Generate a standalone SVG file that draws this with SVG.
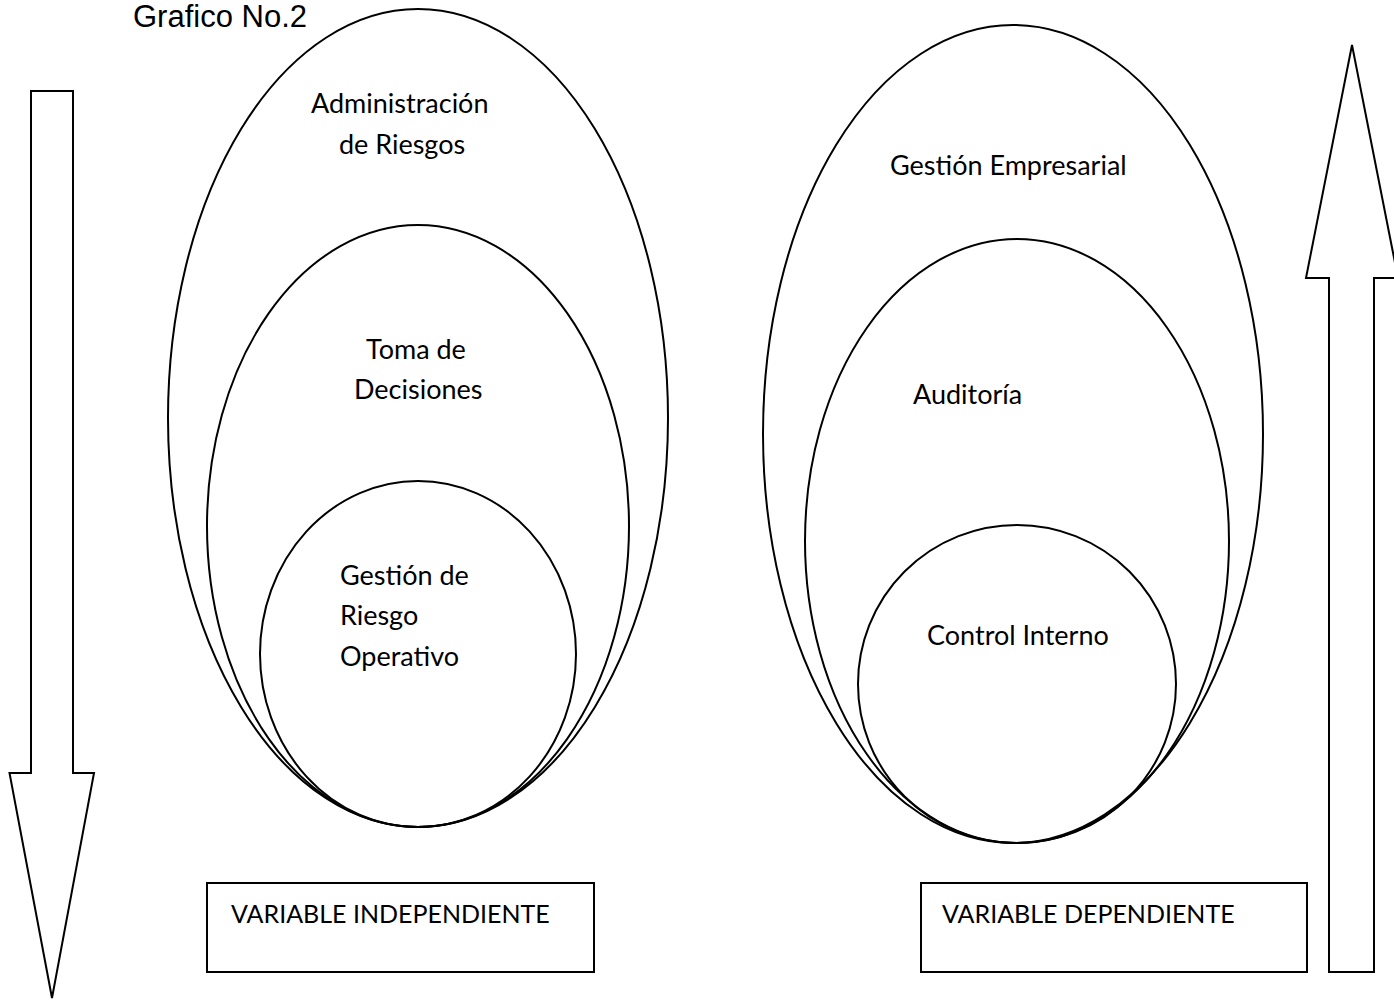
<svg xmlns="http://www.w3.org/2000/svg" width="1394" height="1003" viewBox="0 0 1394 1003">
<style>
.s{fill:none;stroke:#000;stroke-width:2}
.b{fill:#fff;stroke:#000;stroke-width:2}
.t{font-family:Lato,"Open Sans",sans-serif;font-size:27px;fill:#000}
.c{font-family:Lato,"Open Sans",sans-serif;font-size:25px;fill:#000}
.h{font-family:"Liberation Sans",Arial,sans-serif;font-size:31px;fill:#000}
</style>
<rect width="1394" height="1003" fill="#fff"/>
<text class="h" x="133" y="27">Grafico No.2</text>
<g id="connectors">
<path id="arrow-down" class="s" d="M31,91 H73 V773 H94 L52,998 L9.5,773 H31 Z"/>
<path id="arrow-up" class="s" d="M1329,972 H1374 V278 H1398 L1352,45 L1306,278 H1329 Z"/>
</g>
<g id="admin-riesgos">
<ellipse class="s" cx="418" cy="418" rx="250" ry="409"/>
<text class="t" x="311" y="113">Administración</text>
<text class="t" x="339" y="154">de Riesgos</text>
</g>
<g id="toma-decisiones">
<ellipse class="s" cx="418" cy="526" rx="211" ry="301"/>
<text class="t" x="366" y="359">Toma de</text>
<text class="t" x="354" y="399">Decisiones</text>
</g>
<g id="gestion-riesgo">
<ellipse class="s" cx="418" cy="654" rx="158" ry="173"/>
<text class="t" x="340" y="585">Gestión de</text>
<text class="t" x="340" y="625">Riesgo</text>
<text class="t" x="340" y="666">Operativo</text>
</g>
<g id="gestion-empresarial">
<ellipse class="s" cx="1013" cy="434" rx="250" ry="409"/>
<text class="t" x="890" y="175">Gestión Empresarial</text>
</g>
<g id="auditoria">
<ellipse class="s" cx="1017" cy="541" rx="212" ry="302"/>
<text class="t" x="913" y="404">Auditoría</text>
</g>
<g id="control-interno">
<ellipse class="s" cx="1017" cy="684" rx="159" ry="159"/>
<text class="t" x="927" y="645">Control Interno</text>
</g>
<g id="var-indep">
<rect class="b" x="207" y="883" width="387" height="89"/>
<text class="c" x="231" y="923">VARIABLE INDEPENDIENTE</text>
</g>
<g id="var-dep">
<rect class="b" x="921" y="883" width="386" height="89"/>
<text class="c" x="942" y="923">VARIABLE DEPENDIENTE</text>
</g>
</svg>
